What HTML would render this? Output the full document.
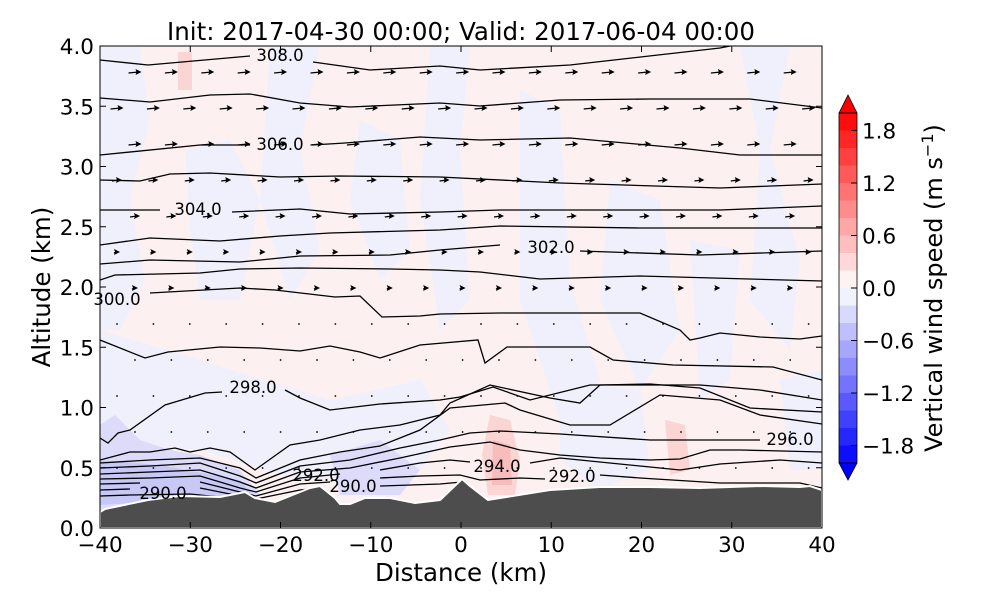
<!DOCTYPE html>
<html><head><meta charset="utf-8"><style>
body{margin:0;background:#fff;}
svg text{font-family:"DejaVu Sans","Liberation Sans",sans-serif;fill:#000;}
</style></head><body>
<svg id="s" width="1000" height="600" viewBox="0 0 1000 600" xmlns="http://www.w3.org/2000/svg">
<defs><clipPath id="cp"><rect x="100" y="46" width="722" height="482"/></clipPath></defs>
<g clip-path="url(#cp)">
<rect x="100" y="46" width="722" height="482" fill="#fdf0f0"/>
<g fill="#f0f0fd">
<path d="M100,46 L140,46 L150,120 L130,200 L145,280 L120,330 L100,330 Z"/>
<path d="M185,150 L230,140 L260,200 L240,300 L200,300 L190,230 Z"/>
<path d="M270,46 L320,46 L300,150 L320,250 L290,300 L260,200 Z"/>
<path d="M360,120 L400,140 L410,250 L380,280 L350,200 Z"/>
<path d="M430,46 L470,46 L460,150 L470,300 L440,330 L420,200 Z"/>
<path d="M520,90 L560,110 L570,280 L600,380 L560,420 L520,300 Z"/>
<path d="M610,180 L660,200 L680,330 L640,390 L600,300 Z"/>
<path d="M740,46 L790,46 L770,150 L800,260 L790,350 L750,300 L760,150 Z"/>
<path d="M690,240 L740,250 L730,380 L700,400 Z"/>
<path d="M100,330 L200,360 L330,400 L420,380 L450,430 L420,470 L300,480 L200,450 L100,440 Z"/>
<path d="M560,380 L640,390 L650,470 L600,490 L560,460 Z"/>
<path d="M780,380 L822,370 L822,470 L790,470 Z"/>
</g>
<g fill="#dcdcfa">
<path d="M100,425 L115,415 L140,440 L170,450 L200,455 L240,470 L260,495 L200,500 L140,505 L100,510 Z"/>
<path d="M330,455 L380,440 L420,470 L400,495 L340,495 Z"/>
</g>
<g fill="#c8c8f6"><path d="M100,460 L160,465 L240,480 L255,497 L180,500 L100,505 Z"/></g>
<g fill="#fbd4d4">
<path d="M490,415 L510,420 L520,460 L515,495 L488,495 L482,455 Z"/>
<path d="M665,420 L685,425 L690,470 L670,475 Z"/>
<path d="M178,52 L192,52 L192,90 L178,90 Z"/>
</g>
<g fill="#f8bcbc"><path d="M493,440 L510,445 L512,485 L492,485 Z"/></g>
<g fill="none" stroke="#000" stroke-width="1.3">
<polyline points="100,60 148,65 250,56"/><polyline points="313,62 370,70 440,66 480,70 570,65 720,48 760,40"/>
<polyline points="100,98 150,102 210,95 250,94 300,103 350,107 440,103 480,106 560,100 650,99 750,99 822,108"/>
<polyline points="100,155 200,145 250,145"/><polyline points="312,145 345,143 420,137 440,138 480,140 570,138 680,148 740,155 822,155"/>
<polyline points="100,180 140,181 170,174 210,173 280,177 340,176 440,177 560,183 720,188 822,184"/>
<polyline points="100,210 160,210"/><polyline points="232,212 300,209 350,214 440,212 500,210 600,210 720,210 822,206"/>
<polyline points="100,245 150,238 220,241 280,236 330,233 440,230 500,226 640,228 720,228 822,228"/>
<polyline points="100,264 150,260 240,262 300,256 390,255 440,250 500,245"/><polyline points="580,251 700,255 822,251"/>
<polyline points="100,280 115,275 200,273 240,269 300,268 390,269 440,270 480,272 540,279 640,276 822,281"/>
<polyline points="150,293 240,288 275,290 335,297 360,296 382,317 420,316 440,314 500,313 640,313 680,330 690,340 700,338 720,333 760,337 800,339 822,336"/>
<polyline points="100,340 145,358 168,352 220,347 260,348 300,351 330,346 360,352 380,358 420,345 478,340 485,363 507,347 590,347 613,360 673,365 773,367 822,380"/>
<polyline points="100,438 108,443 118,433 130,430 165,405 205,393 222,392"/>
<polyline points="285,390 300,398 330,410 380,404 440,400 460,397 493,387 530,400 590,385 700,385 760,390 822,400"/>
<polyline points="100,460 130,452 150,452 175,448 190,452 210,448 230,452 255,470 290,445 320,440 360,430 400,425 440,415 450,403 490,385 550,398 580,403 600,385 650,384 700,388 750,408 822,412"/>
<polyline points="100,463 150,460 200,458 240,468 256,478 300,460 340,452 380,446 420,430 450,408 505,403 520,410 570,425 610,425 660,395 720,400 760,415 822,424"/>
<polyline points="100,468 150,466 200,463 240,476 256,483 300,466 350,460 400,448 440,440 470,433 500,431 560,434 650,440 700,440 760,440"/>
<polyline points="100,474 150,472 200,470 240,482 256,488 300,472 350,468 400,458 450,447 490,442 520,450 560,455 600,458 650,460 680,459 710,450 740,450 822,452"/>
<polyline points="100,479 150,478 200,476 240,488 256,492 300,478 340,474"/><polyline points="380,470 420,463 450,460 470,462"/><polyline points="530,463 560,458 640,466 680,470 720,464 780,460 822,463"/>
<polyline points="100,484 140,483"/><polyline points="200,482 240,492 256,496 300,484 330,482"/><polyline points="380,478 420,476 460,475 480,480 520,478 545,479"/><polyline points="600,475 640,478 720,483 800,483 822,488"/>
<polyline points="100,490 130,489"/><polyline points="200,488 240,496 256,499 300,490 320,488"/><polyline points="380,486 440,484 462,482"/>
<polyline points="100,496 130,495 190,494 240,499"/><polyline points="290,496 330,494"/>
</g>
<path d="M100,528 L100,512 L105,509 L148,500 L180,496 L220,497 L245,492 L255,498 L275,502 L310,488 L320,486 L335,498 L340,504 L350,504 L365,498 L390,498 L415,503 L440,500 L462,479 L470,486 L488,500 L500,498 L550,490 L600,487 L650,487 L700,488 L760,486 L800,487 L810,486 L822,490 L822,528 Z" fill="#4d4d4d" stroke="#fff" stroke-width="2"/>
<g id="arr" fill="#000" stroke="#000"></g>
</g>
<g font-size="16.5">
<text x="280" y="61" text-anchor="middle">308.0</text>
<text x="280" y="150" text-anchor="middle">306.0</text>
<text x="198" y="215" text-anchor="middle">304.0</text>
<text x="551" y="253" text-anchor="middle">302.0</text>
<text x="117" y="305" text-anchor="middle">300.0</text>
<text x="253" y="393" text-anchor="middle">298.0</text>
<text x="790" y="445" text-anchor="middle">296.0</text>
<text x="497" y="472" text-anchor="middle">294.0</text>
<text x="572" y="482" text-anchor="middle">292.0</text>
<text x="316" y="481" text-anchor="middle">292.0</text>
<text x="353" y="492" text-anchor="middle">290.0</text>
<text x="163" y="499" text-anchor="middle">290.0</text>
</g>
<rect x="100" y="46" width="722" height="482" fill="none" stroke="#000" stroke-width="1"/>
<g id="ticks" stroke="#000" stroke-width="1"></g>
<g id="tl" font-size="21.5"></g>
<text x="461" y="40" font-size="24.5" text-anchor="middle">Init: 2017-04-30 00:00; Valid: 2017-06-04 00:00</text>
<text x="461" y="581" font-size="24.5" text-anchor="middle">Distance (km)</text>
<text transform="translate(50,287) rotate(-90)" font-size="24.5" text-anchor="middle">Altitude (km)</text>
<g id="cb"></g>
<text transform="translate(942,288) rotate(-90)" font-size="24" text-anchor="middle">Vertical wind speed (m s<tspan dy="-9" font-size="16">−1</tspan><tspan dy="9">)</tspan></text>
</svg>
<script>
var NS="http://www.w3.org/2000/svg";
function el(p,t,a,txt){var e=document.createElementNS(NS,t);for(var k in a)e.setAttribute(k,a[k]);if(txt!==undefined)e.textContent=txt;document.getElementById(p).appendChild(e);return e;}
for(var v=-40;v<=40;v+=10){var x=100+(v+40)*9.025;el("ticks","line",{x1:x,y1:528,x2:x,y2:522});el("ticks","line",{x1:x,y1:46,x2:x,y2:52});el("tl","text",{x:x,y:552,"text-anchor":"middle"},(v<0?"\u2212":"")+Math.abs(v));}
for(var i=0;i<=8;i++){var y=528-i*60.25;el("ticks","line",{x1:100,y1:y,x2:106,y2:y});el("ticks","line",{x1:822,y1:y,x2:816,y2:y});el("tl","text",{x:94,y:y+8,"text-anchor":"end"},(i*0.5).toFixed(1));}
for(var b=0;b<20;b++){var c=1.9-b*0.2,col;var f=Math.round(255*(1-Math.abs(c)/2));col=c>0?"rgb(255,"+f+","+f+")":"rgb("+f+","+f+",255)";el("cb","rect",{x:839,y:113+b*17.5,width:18,height:17.6,fill:col});}
el("cb","path",{d:"M839,113 L848,95 L857,113 Z",fill:"#ff0000",stroke:"#000","stroke-width":0.8});
el("cb","path",{d:"M839,463 L848,480 L857,463 Z",fill:"#0000ff",stroke:"#000","stroke-width":0.8});
el("cb","rect",{x:839,y:113,width:18,height:350,fill:"none",stroke:"#000","stroke-width":0.8});
[1.8,1.2,0.6,0,-0.6,-1.2,-1.8].forEach(function(v){var y=288-v*87.5;el("cb","line",{x1:851,y1:y,x2:857,y2:y,stroke:"#000"});el("cb","text",{x:862,y:y+8,"font-size":21.5},(v<0?"\u2212":"")+Math.abs(v).toFixed(1));});
for(var r=0;r<13;r++){var y=72+r*36;for(var j=0;j<20;j++){var x=135+j*36.4-(r%2)*18;if(x<103||x>820)continue;
var L=r<3?13:r<5?10:r<7?6:2;if(y>470)continue;
if(L<=2){el("arr","circle",{cx:x,cy:y,r:0.9,stroke:"none"});continue;}
el("arr","line",{x1:x-L/2,y1:y+1,x2:x+L/2-3,y2:y,"stroke-width":1.2});
el("arr","path",{d:"M"+(x+L/2)+","+y+" l-6,-3 l1,3 l-1,3 Z",stroke:"none"});}}
</script>
</body></html>
